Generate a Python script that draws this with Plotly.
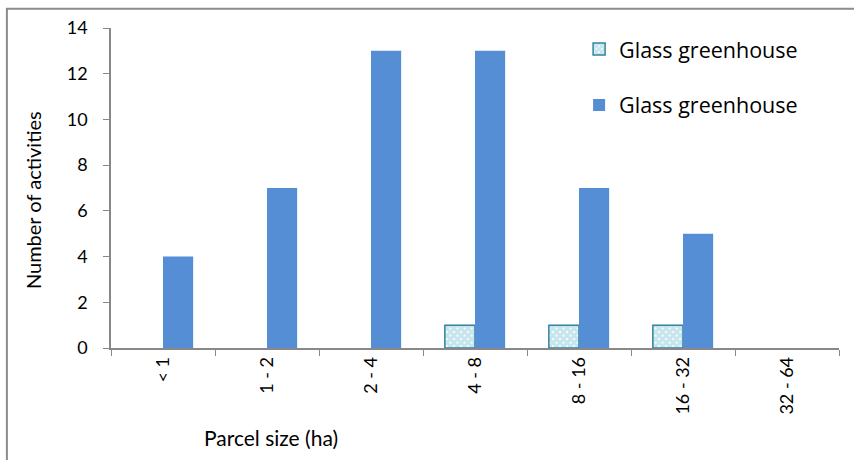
import plotly.graph_objects as go

categories = ["< 1", "1 - 2", "2 - 4", "4 - 8", "8 - 16", "16 - 32", "32 - 64"]
glass_checkered = [0, 0, 0, 1, 1, 1, 0]
glass_solid = [4, 7, 13, 13, 7, 5, 0]
series_names = ["Glass greenhouse", "Glass greenhouse"]
y_ticks = [0, 2, 4, 6, 8, 10, 12, 14]

FONT = "Lato"


def hide_zero(vals):
    return [v if v else None for v in vals]


fig = go.Figure()
fig.add_trace(go.Bar(
    x=categories, y=hide_zero(glass_checkered), name=series_names[0],
    legendgroup="a",
    marker=dict(color="#ffffff",
                line=dict(color="#31859C", width=1.5),
                pattern=dict(shape="x", fgcolor="#8ECBDB", bgcolor="#ffffff",
                             size=5, solidity=0.85, fillmode="overlay")),
))
fig.add_trace(go.Bar(
    x=categories, y=hide_zero(glass_solid), name=series_names[1],
    legendgroup="b",
    marker=dict(color="#558ED5", line=dict(width=0)),
))

fig.update_layout(
    width=854, height=460,
    margin=dict(l=111, r=15, t=28, b=112, autoexpand=False),
    paper_bgcolor="white", plot_bgcolor="white",
    barmode="group", bargap=0.42, bargroupgap=0,
    font=dict(family=FONT, size=18, color="#000000"),
    legend=dict(x=0.643, y=0.998, xanchor="left", yanchor="top",
                font=dict(family="Open Sans", size=21.5, color="#000000"),
                traceorder="grouped", tracegroupgap=25,
                bgcolor="rgba(0,0,0,0)"),
    xaxis=dict(type="category", tickson="boundaries", ticks="outside", ticklen=6,
               tickcolor="#888888", showline=True, linecolor="#888888", linewidth=1.5,
               tickangle=-90, showgrid=False, mirror=False,
               tickfont=dict(family=FONT, size=18)),
    yaxis=dict(range=[0, 14], tickvals=y_ticks, ticks="outside", ticklen=6,
               tickcolor="#888888", showline=True, linecolor="#888888", linewidth=1.5,
               showgrid=False, zeroline=False, ticklabelstandoff=12,
               tickfont=dict(family=FONT, size=18)),
    showlegend=True,
)

fig.add_annotation(text="Number of activities", textangle=-90,
                   xref="paper", yref="paper", x=-0.107, y=0.4625,
                   xanchor="center", yanchor="middle",
                   showarrow=False, font=dict(family=FONT, size=20))
fig.add_annotation(text="Parcel size (ha)",
                   xref="paper", yref="paper", x=0.22, y=-0.281,
                   xanchor="center", yanchor="middle",
                   showarrow=False, font=dict(family=FONT, size=21))

# chart border (left and top edges visible in the crop)
fig.add_shape(type="path", xref="paper", yref="paper",
              path="M -0.143,-0.6 L -0.143,1.06 L 1.2,1.06",
              line=dict(color="#8c8c8c", width=2), layer="above")

fig.write_html("out.html", config={"displayModeBar": False},
               post_script="document.body.style.margin='0';")
